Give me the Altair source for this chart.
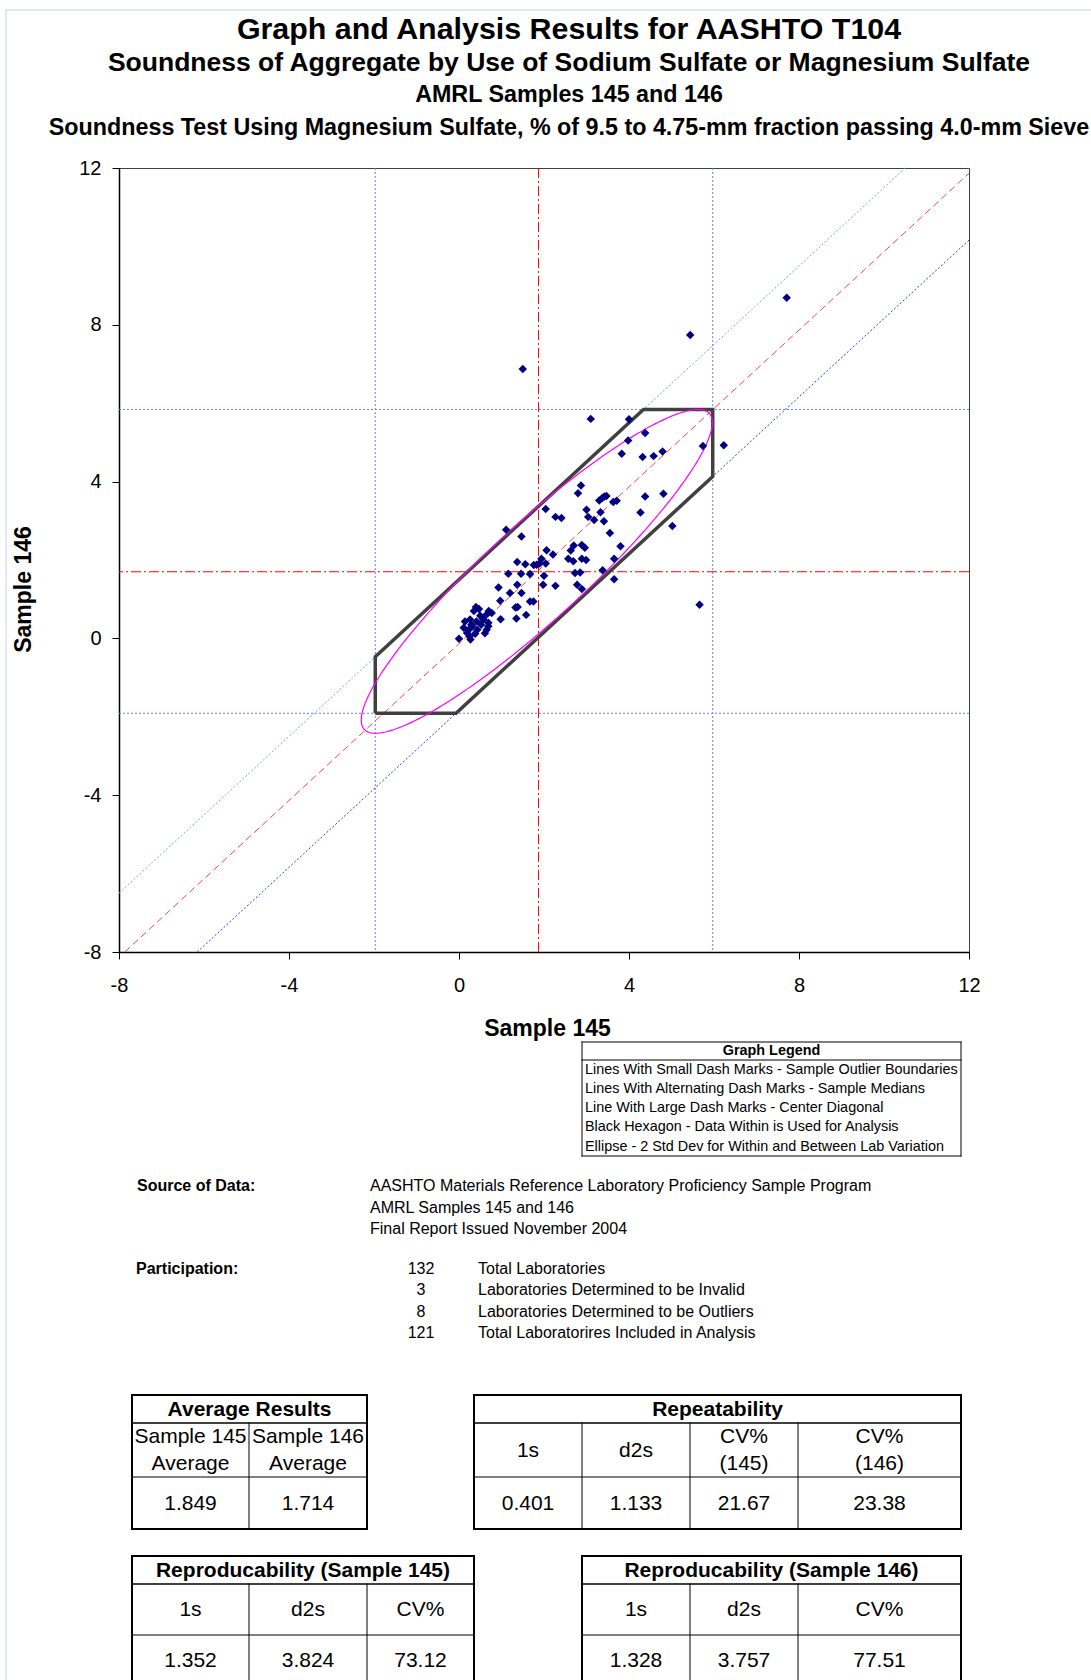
import math
import altair as alt
import pandas as pd

FONT = "Liberation Sans"

# ---------------- data ----------------
sample_145 = [1.50, 5.44, 7.71, 5.66, 6.23, 5.02, 3.10, 4.00, 4.38, 3.98,
              3.83, 4.32, 4.58, 4.79, 5.74, 2.87, 2.80, 4.38, 4.81, 3.30,
              3.37, 3.42, 3.47, 3.63, 3.71, 3.00, 3.33, 3.04, 3.18, 3.41,
              4.27, 3.55, 2.04, 2.27, 2.41, 1.11, 1.47, 2.70, 2.89, 2.96,
              2.63, 3.80, 2.06, 2.21, 1.94, 2.57, 2.69, 2.89, 2.99, 3.65,
              1.37, 1.56, 1.76, 1.83, 1.90, 2.04, 3.38, 3.65, 2.73, 2.85,
              2.78, 2.89, 1.16, 1.46, 1.67, 2.00, 1.98, 2.27, 0.93, 1.37,
              1.20, 1.47, 0.97, 1.67, 1.75, 1.33, 1.38, 0.40, 0.35, 0.70,
              0.64, 0.50, 1.58, 0.98, 1.35, 0.14, 0.26, 0.41, 0.52, 0.69,
              0.11, 0.23, 0.31, 0.19, 0.38, 0.61, 0.69, 0.00, 0.27, 0.47,
              0.77, 0.57, 0.29, 0.43, 0.25, 0.65]
sample_146 = [6.87, 7.74, 8.69, 0.86, 4.93, 2.87, 5.60, 5.59, 5.24, 5.05,
              4.71, 4.63, 4.65, 4.77, 4.91, 3.90, 3.70, 3.62, 3.69, 3.52,
              3.58, 3.62, 3.63, 3.48, 3.51, 3.28, 3.22, 3.10, 3.02, 2.99,
              3.21, 2.69, 3.30, 3.10, 3.07, 2.77, 2.60, 2.37, 2.38, 2.31,
              2.24, 2.35, 2.25, 2.14, 2.03, 2.03, 1.97, 2.03, 2.00, 2.03,
              1.95, 1.89, 1.87, 1.88, 1.91, 1.91, 1.74, 1.51, 1.67, 1.68,
              1.37, 1.26, 1.65, 1.65, 1.64, 1.60, 1.37, 1.34, 1.30, 1.37,
              1.16, 1.16, 0.96, 0.94, 0.94, 0.79, 0.80, 0.80, 0.70, 0.70,
              0.60, 0.58, 0.60, 0.49, 0.51, 0.43, 0.48, 0.43, 0.35, 0.40,
              0.27, 0.22, 0.31, 0.14, 0.12, 0.13, 0.31, -0.01, -0.03, 0.75,
              0.65, 0.48, 0.35, 0.22, 0.05, 0.22]

median_145 = 1.87
median_146 = 1.70
outlier_145 = [-1.97, 5.97]
outlier_146 = [-1.91, 5.84]
diag_upper = 1.50
diag_center = -0.135
diag_lower = -1.84
hex_145 = [-1.97, -1.97, 4.34, 5.97, 5.97, -0.07, -1.97]
hex_146 = [-1.91, -0.47, 5.84, 5.84, 4.13, -1.91, -1.91]
ellipse_center = [1.83, 1.71]
ellipse_axes = [5.72, 1.18]
axis_ticks = [-8, -4, 0, 4, 8, 12]
axis_domain = [-8, 12]

title_lines = [
    "Graph and Analysis Results for AASHTO T104",
    "Soundness of Aggregate by Use of Sodium Sulfate or Magnesium Sulfate",
    "AMRL Samples 145 and 146",
    "Soundness Test Using Magnesium Sulfate, % of 9.5 to 4.75-mm fraction passing 4.0-mm Sieve",
]
legend_title = "Graph Legend"
legend_lines = [
    "Lines With Small Dash Marks - Sample Outlier Boundaries",
    "Lines With Alternating Dash Marks - Sample Medians",
    "Line With Large Dash Marks - Center Diagonal",
    "Black Hexagon - Data Within is Used for Analysis",
    "Ellipse - 2 Std Dev for Within and Between Lab Variation",
]
source_label = "Source of Data:"
source_lines = [
    "AASHTO Materials Reference Laboratory Proficiency Sample Program",
    "AMRL Samples 145 and 146",
    "Final Report Issued November 2004",
]
participation_label = "Participation:"
participation_counts = ["132", "3", "8", "121"]
participation_desc = [
    "Total Laboratories",
    "Laboratories Determined to be Invalid",
    "Laboratories Determined to be Outliers",
    "Total Laboratorires Included in Analysis",
]
avg_title = "Average Results"
avg_head1 = ["Sample 145", "Sample 146"]
avg_head2 = ["Average", "Average"]
avg_values = ["1.849", "1.714"]
rep_title = "Repeatability"
rep_head1 = ["1s", "d2s", "CV%", "CV%"]
rep_head2 = ["", "", "(145)", "(146)"]
rep_values = ["0.401", "1.133", "21.67", "23.38"]
repro_titles = ["Reproducability (Sample 145)", "Reproducability (Sample 146)"]
repro_head = ["1s", "d2s", "CV%"]
repro145_values = ["1.352", "3.824", "73.12"]
repro146_values = ["1.328", "3.757", "77.51"]

# ---------------- layout ----------------
W, H = 850, 784
LEFT, TOP = 119, 168
PAGE_W, PAGE_H = 1091, 1680

xs = alt.Scale(domain=axis_domain, zero=False, nice=False)
ys = alt.Scale(domain=axis_domain, zero=False, nice=False)

LABEL_EXPR = "'' + datum.value"

xaxis = alt.Axis(values=axis_ticks, title="Sample 145", grid=False, tickSize=7,
                 tickColor="black", domainColor="black", domainWidth=1.5,
                 labelFont=FONT, labelFontSize=20, labelPadding=16, labelColor="black",
                 labelFlush=False, labelOverlap=False, labelExpr=LABEL_EXPR,
                 titleFont=FONT, titleFontSize=23, titleFontWeight="bold",
                 titleColor="black", titleY=76, titleX=428, titleBaseline="middle")
yaxis = alt.Axis(values=axis_ticks, title="Sample 146", grid=False, tickSize=7,
                 tickColor="black", domainColor="black", domainWidth=1.5,
                 labelFont=FONT, labelFontSize=20, labelPadding=11, labelColor="black",
                 labelFlush=False, labelOverlap=False, labelExpr=LABEL_EXPR,
                 titleFont=FONT, titleFontSize=23, titleFontWeight="bold",
                 titleColor="black", titleX=23 - LEFT, titleY=589 - TOP,
                 titleAngle=270, titleBaseline="middle", titleAlign="center")


def X(f="x"):
    return alt.X(f + ":Q", scale=xs, axis=xaxis)


def Y(f="y"):
    return alt.Y(f + ":Q", scale=ys, axis=yaxis)


pts = pd.DataFrame({"x": sample_145, "y": sample_146})
points = alt.Chart(pts).mark_point(shape="diamond", filled=True, color="#000080",
                                   size=72, opacity=1).encode(x=X(), y=Y())

# outlier boundaries
vb = alt.Chart(pd.DataFrame({"x": outlier_145})).mark_rule(
    color="#5B82FF", strokeDash=[2, 2], strokeWidth=1).encode(x=X())
hb = alt.Chart(pd.DataFrame({"y": outlier_146})).mark_rule(
    color="#5B82FF", strokeDash=[2, 2], strokeWidth=1).encode(y=Y())
# medians
vm = alt.Chart(pd.DataFrame({"x": [median_145]})).mark_rule(
    color="#FF0000", strokeDash=[10, 3, 2, 3], strokeWidth=1).encode(x=X())
hm = alt.Chart(pd.DataFrame({"y": [median_146]})).mark_rule(
    color="#FF0000", strokeDash=[10, 3, 2, 3], strokeWidth=1).encode(y=Y())


def seg(d):
    xa = max(axis_domain[0], axis_domain[0] - d)
    xb = min(axis_domain[1], axis_domain[1] - d)
    return dict(x=xa, y=xa + d, x2=xb, y2=xb + d)


def diag(d, color, dash):
    return alt.Chart(pd.DataFrame([seg(d)])).mark_rule(
        color=color, strokeDash=dash, strokeWidth=1).encode(
        x=X(), y=Y(), x2="x2:Q", y2="y2:Q")


d_up = diag(diag_upper, "#7A9CFF", [2, 2])
d_lo = diag(diag_lower, "#2E3BEB", [2, 2])
d_ce = diag(diag_center, "#FF4040", [7, 4])

hexdf = pd.DataFrame({"x": hex_145, "y": hex_146, "i": list(range(len(hex_145)))})
hexagon = alt.Chart(hexdf).mark_line(color="#404040", strokeWidth=3.5,
                                     strokeJoin="miter").encode(x=X(), y=Y(), order="i:Q")

n = 241
ang = [2 * math.pi * k / (n - 1) for k in range(n)]
c45 = math.sqrt(0.5)
ell = pd.DataFrame({
    "x": [ellipse_center[0] + c45 * (ellipse_axes[0] * math.cos(t) - ellipse_axes[1] * math.sin(t)) for t in ang],
    "y": [ellipse_center[1] + c45 * (ellipse_axes[0] * math.cos(t) + ellipse_axes[1] * math.sin(t)) for t in ang],
    "i": list(range(n)),
})
ellipse = alt.Chart(ell).mark_line(color="#FF00FF", strokeWidth=1.2).encode(
    x=X(), y=Y(), order="i:Q")

# ---------------- annotations / tables (page pixel coordinates) ----------------
texts = []
rules = []


def T(px, py, s, size, weight="normal", align="center"):
    texts.append(dict(px=px - LEFT, py=py - TOP, text=s, size=size,
                      weight=weight, align=align))


def R(x1, y1, x2, y2, w=1.0, c="black"):
    rules.append(dict(px=x1 - LEFT, py=y1 - TOP, px2=x2 - LEFT, py2=y2 - TOP, w=w, c=c))


def box(x0, y0, x1, y1, w):
    R(x0, y0, x1, y0, w)
    R(x0, y1, x1, y1, w)
    R(x0, y0, x0, y1, w)
    R(x1, y0, x1, y1, w)


# page frame
R(6, 10, PAGE_W, 10, 1, "#C9D3DE")
R(6, 10, 6, PAGE_H, 1, "#C9D3DE")

# titles
for ty, s, fs in zip([30, 63, 95, 128], title_lines, [30.4, 26.5, 23.3, 23.3]):
    T(569, ty, s, fs, "bold")

# graph legend box
box(582, 1042, 961, 1156, 1)
R(582, 1060, 961, 1060, 1)
T(771.5, 1051, legend_title, 14.4, "bold")
for ly, s in zip([1070, 1089, 1108, 1127, 1147], legend_lines):
    T(585, ly, s, 14.4, "normal", "left")

# source & participation
T(137, 1186, source_label, 16, "bold", "left")
for sy, s in zip([1186, 1208, 1229], source_lines):
    T(370, sy, s, 16, "normal", "left")
T(136, 1269, participation_label, 16, "bold", "left")
for py_, c, s in zip([1269, 1290, 1312, 1333], participation_counts, participation_desc):
    T(421, py_, c, 16, "normal", "center")
    T(478, py_, s, 16, "normal", "left")

TS = 21
# Average Results table
ax = [132, 249, 367]
box(ax[0], 1395, ax[-1], 1529, 2)
R(ax[0], 1423, ax[-1], 1423, 1.5)
R(ax[0], 1477, ax[-1], 1477, 1)
R(ax[1], 1423, ax[1], 1529, 1)
T((ax[0] + ax[-1]) / 2, 1410, avg_title, TS, "bold")
for k in range(2):
    cx = (ax[k] + ax[k + 1]) / 2
    T(cx, 1437, avg_head1[k], TS)
    T(cx, 1464, avg_head2[k], TS)
    T(cx, 1504, avg_values[k], TS)

# Repeatability table
rx = [474, 582, 690, 798, 961]
box(rx[0], 1395, rx[-1], 1529, 2)
R(rx[0], 1423, rx[-1], 1423, 1.5)
R(rx[0], 1477, rx[-1], 1477, 1)
for xv in rx[1:-1]:
    R(xv, 1423, xv, 1529, 1)
T((rx[0] + rx[-1]) / 2, 1410, rep_title, TS, "bold")
for k in range(4):
    cx = (rx[k] + rx[k + 1]) / 2
    if rep_head2[k]:
        T(cx, 1437, rep_head1[k], TS)
        T(cx, 1464, rep_head2[k], TS)
    else:
        T(cx, 1451, rep_head1[k], TS)
    T(cx, 1504, rep_values[k], TS)

# Reproducability tables
for cols, title, vals in [([132, 249, 367, 474], repro_titles[0], repro145_values),
                          ([582, 690, 798, 961], repro_titles[1], repro146_values)]:
    box(cols[0], 1556, cols[-1], 1692, 2)
    R(cols[0], 1584, cols[-1], 1584, 1.5)
    R(cols[0], 1635, cols[-1], 1635, 1)
    for xv in cols[1:-1]:
        R(xv, 1584, xv, 1692, 1)
    T((cols[0] + cols[-1]) / 2, 1571, title, TS, "bold")
    for k in range(3):
        cx = (cols[k] + cols[k + 1]) / 2
        T(cx, 1610, repro_head[k], TS)
        T(cx, 1661, vals[k], TS)

tdf = pd.DataFrame(texts)
text_layers = []
for (wt, al), g in tdf.groupby(["weight", "align"]):
    text_layers.append(
        alt.Chart(g.reset_index(drop=True)).mark_text(
            font=FONT, fontWeight=wt, align=al, baseline="middle", color="black"
        ).encode(
            x=alt.X("px:Q", scale=None, axis=None),
            y=alt.Y("py:Q", scale=None, axis=None),
            text="text:N",
            size=alt.Size("size:Q", scale=None, legend=None),
        )
    )

rdf = pd.DataFrame(rules)
rule_layer = alt.Chart(rdf).mark_rule(strokeCap="square").encode(
    x=alt.X("px:Q", scale=None, axis=None),
    y=alt.Y("py:Q", scale=None, axis=None),
    x2="px2:Q", y2="py2:Q",
    strokeWidth=alt.StrokeWidth("w:Q", scale=None, legend=None),
    color=alt.Color("c:N", scale=None, legend=None),
)

chart = alt.layer(
    vb, hb, d_up, d_lo, d_ce, vm, hm, hexagon, ellipse, points, rule_layer, *text_layers
).properties(
    width=W, height=H,
    autosize=alt.AutoSizeParams(type="none"),
    padding={"left": LEFT, "top": TOP, "right": PAGE_W - LEFT - W, "bottom": PAGE_H - TOP - H},
    background="white",
).configure_view(stroke="#404040", strokeWidth=1)

chart.save("out.html", embed_options={"renderer": "svg", "actions": False})
